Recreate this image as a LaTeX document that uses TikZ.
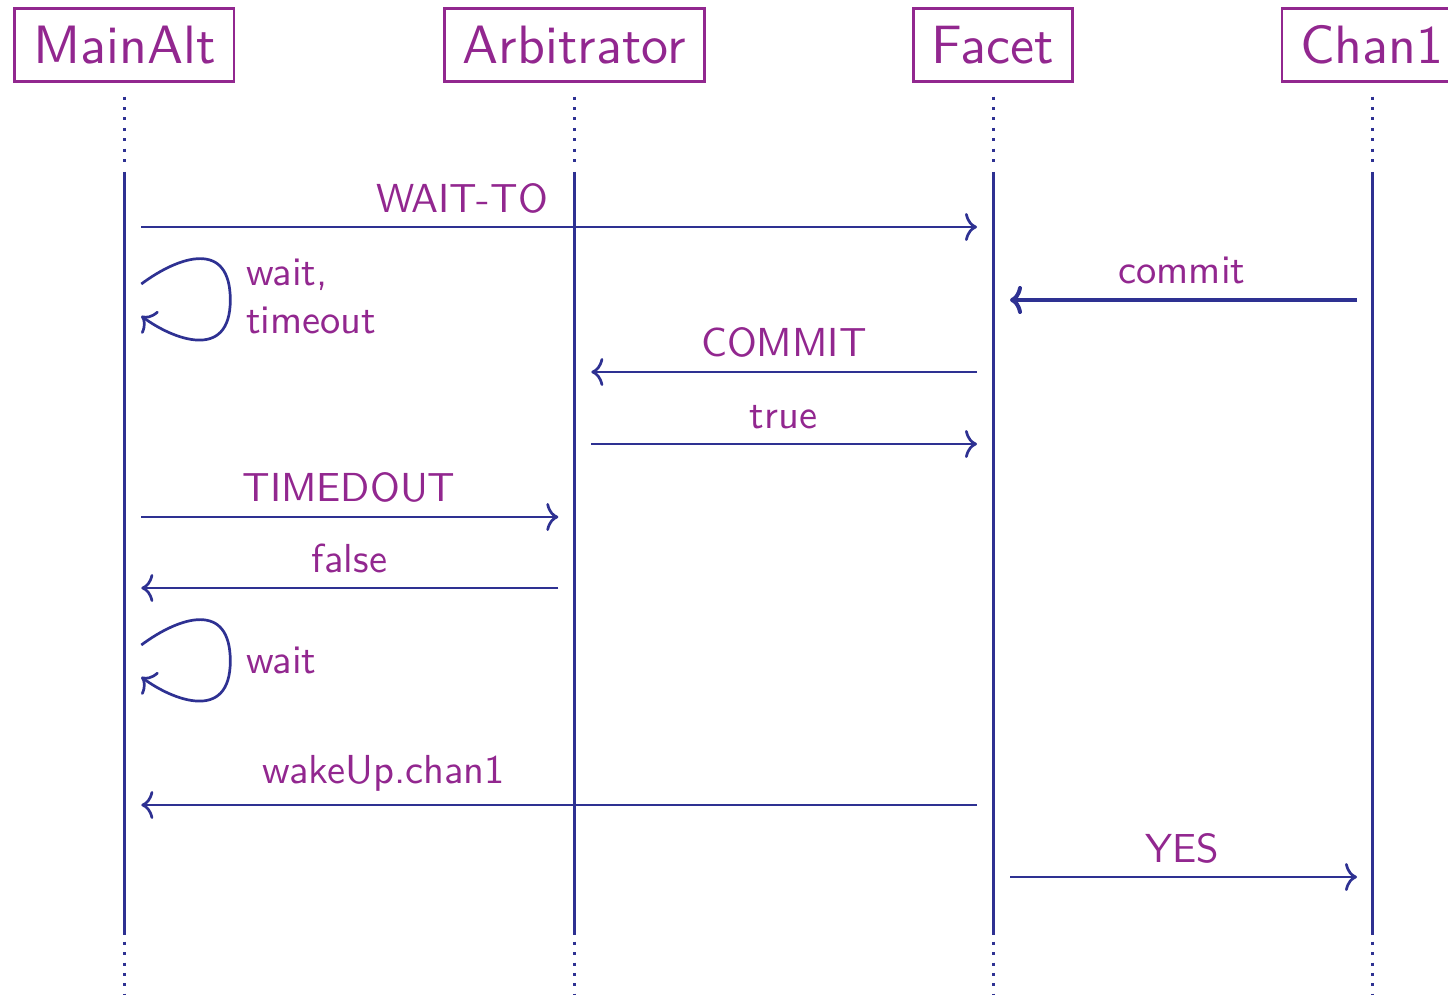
\documentclass[tikz,border=0pt]{standalone}
\usepackage{fontspec}
\usetikzlibrary{arrows.meta}
\newfontfamily\lmsansten{lmsans10-regular.otf}
\definecolor{lineblue}{RGB}{46,49,146}
\definecolor{txtpurple}{RGB}{146,39,143}
\begin{document}
\begin{tikzpicture}[x=1pt,y=-1pt,
  head/.style={draw=txtpurple, line width=2.7pt, text=txtpurple,
    font=\lmsansten\fontsize{54}{60}\selectfont,
    inner xsep=18.5pt, inner ysep=0pt, minimum height=72.8pt,
    text height=37.5pt, text depth=0pt},
  life/.style={draw=lineblue, line width=3pt},
  dots/.style={draw=lineblue, line width=3pt, dash pattern=on 3pt off 7.4pt},
  msg/.style={draw=lineblue, line width=2.7pt,
    -{Computer Modern Rightarrow[length=12pt,width=28pt]}},
  heavy/.style={msg, line width=4pt},
  lbl/.style={text=txtpurple, font=\lmsansten\fontsize{40.5}{48}\selectfont,
    inner sep=0pt}]
\clip (0,0) rectangle (1448,995);

% participants
\node[head] (ma) at (124.3,45.2) {MainAlt};
\node[head] (ar) at (574.3,45.2) {Arbitrator};
\node[head] (fa) at (993,45.2) {Facet};
\node[head] (ch) at (1372,45.2) {Chan1};

% reference heights for lifelines
\coordinate (dtop) at (0,96.7);
\coordinate (dmid) at (0,162);
\coordinate (ltop) at (0,172);
\coordinate (lbot) at (0,935);
\coordinate (dlow) at (0,941.7);
\coordinate (dend) at (0,1000);

\foreach \p in {ma,ar,fa,ch}{
  \draw[dots] (\p.center |- dtop) -- (\p.center |- dmid);
  \draw[life] (\p.center |- ltop) -- (\p.center |- lbot);
  \draw[dots] (\p.center |- dlow) -- (\p.center |- dend);
}

% message rows
\coordinate (r1) at (0,227);
\coordinate (r2) at (0,300);
\coordinate (r3) at (0,372);
\coordinate (r4) at (0,444);
\coordinate (r5) at (0,517);
\coordinate (r6) at (0,588);
\coordinate (r7) at (0,805);
\coordinate (r8) at (0,877);
\coordinate (q1) at (0,284);
\coordinate (q2) at (0,316);
\coordinate (q3) at (0,645);
\coordinate (q4) at (0,677);

\draw[msg] ([xshift=17pt]ma.center |- r1) -- ([xshift=-16pt]fa.center |- r1);
\draw[heavy] ([xshift=-15pt]ch.center |- r2) -- ([xshift=17pt]fa.center |- r2);
\draw[msg] ([xshift=-16pt]fa.center |- r3) -- ([xshift=17pt]ar.center |- r3);
\draw[msg] ([xshift=17pt]ar.center |- r4) -- ([xshift=-16pt]fa.center |- r4);
\draw[msg] ([xshift=17pt]ma.center |- r5) -- ([xshift=-16pt]ar.center |- r5);
\draw[msg] ([xshift=-16pt]ar.center |- r6) -- ([xshift=17pt]ma.center |- r6);
\draw[msg] ([xshift=-16pt]fa.center |- r7) -- ([xshift=17pt]ma.center |- r7);
\draw[msg] ([xshift=17pt]fa.center |- r8) -- ([xshift=-15pt]ch.center |- r8);

% self messages on MainAlt
\coordinate (s1) at ([xshift=17pt]ma.center |- q1);
\coordinate (e1) at ([xshift=17pt]ma.center |- q2);
\coordinate (s2) at ([xshift=17pt]ma.center |- q3);
\coordinate (e2) at ([xshift=17pt]ma.center |- q4);
\draw[msg] (s1) .. controls +(39,-29) and +(0,-60) .. ++(89,16)
  .. controls +(0,62) and +(31,23) .. (e1);
\draw[msg] (s2) .. controls +(39,-29) and +(0,-60) .. ++(89,16)
  .. controls +(0,62) and +(31,23) .. (e2);

% labels
\node[lbl, anchor=base] (t1) at (462,212) {WAIT-TO};
\node[lbl, anchor=base] (t2) at (1182,283) {commit};
\node[lbl, anchor=base] (t3) at (784,356) {COMMIT};
\node[lbl, anchor=base] (t4) at (783.5,428) {true};
\node[lbl, anchor=base] (t5) at (349,501) {TIMEDOUT};
\node[lbl, anchor=base] (t6) at (349.5,572) {false};
\node[lbl, anchor=base] (t7) at (384,783) {wakeUp.chan1};
\node[lbl, anchor=base] (t8) at (1182.5,862) {YES};
\node[lbl, anchor=base west] (t9) at (246,285) {wait,};
\node[lbl, anchor=base west] (t10) at (246,333) {timeout};
\node[lbl, anchor=base west] (t11) at (246,673) {wait};
\end{tikzpicture}
\end{document}
